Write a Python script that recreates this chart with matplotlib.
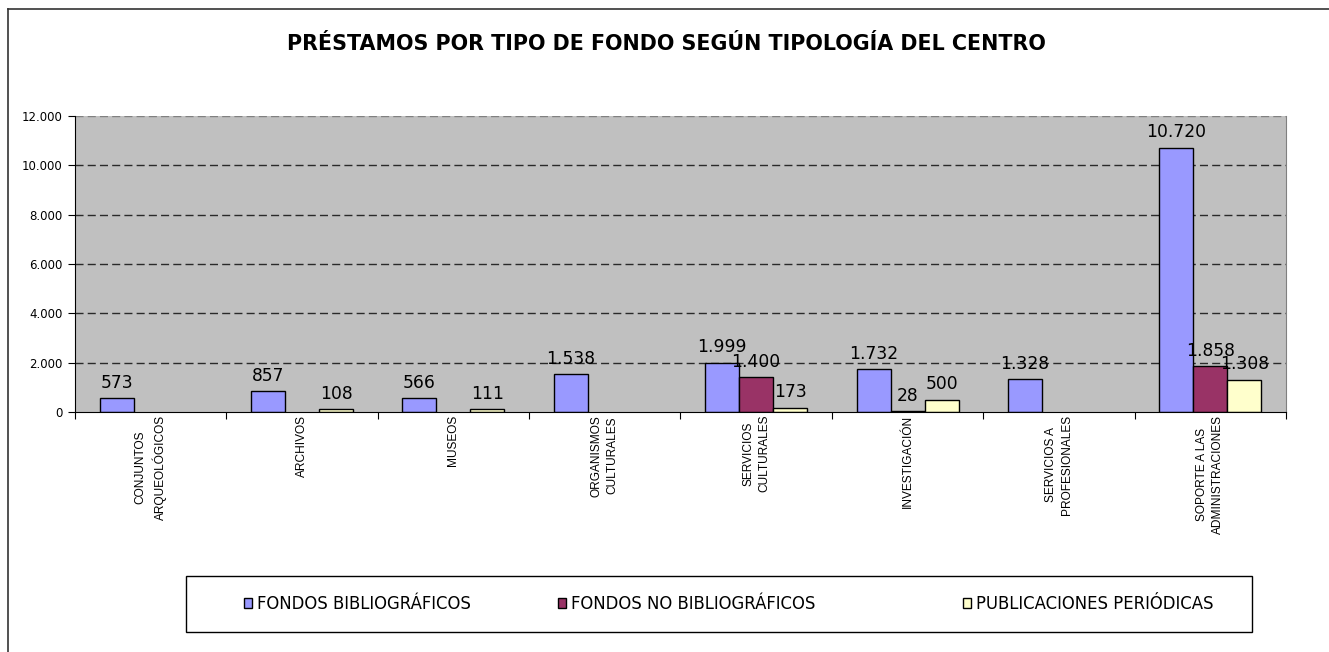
import numpy as np
import matplotlib
matplotlib.use("Agg")
import matplotlib.pyplot as plt
from matplotlib import font_manager
from matplotlib.lines import Line2D
from matplotlib.patches import Rectangle

categories = ["CONJUNTOS\nARQUEOLÓGICOS", "ARCHIVOS", "MUSEOS", "ORGANISMOS\nCULTURALES",
              "SERVICIOS\nCULTURALES", "INVESTIGACIÓN", "SERVICIOS A\nPROFESIONALES",
              "SOPORTE A LAS\nADMINISTRACIONES"]
series_names = ["FONDOS BIBLIOGRÁFICOS", "FONDOS NO BIBLIOGRÁFICOS", "PUBLICACIONES PERIÓDICAS"]
fondos_bibliograficos = [573, 857, 566, 1538, 1999, 1732, 1328, 10720]
fondos_no_bibliograficos = [None, None, None, None, 1400, 28, None, 1858]
publicaciones_periodicas = [None, 108, 111, None, 173, 500, None, 1308]
yticks = [0, 2000, 4000, 6000, 8000, 10000, 12000]
ytick_labels = ["0", "2.000", "4.000", "6.000", "8.000", "10.000", "12.000"]
title = "PRÉSTAMOS POR TIPO DE FONDO SEGÚN TIPOLOGÍA DEL CENTRO"

colors = ["#9999FF", "#993366", "#FFFFCC"]

names = {f.name for f in font_manager.fontManager.ttflist}
narrow_font = "Liberation Sans Narrow" if "Liberation Sans Narrow" in names else (
    "Liberation Sans" if "Liberation Sans" in names else "DejaVu Sans")
narrow_size = 10 if narrow_font == "Liberation Sans Narrow" else 8.6
plt.rcParams["font.family"] = ["DejaVu Sans"]

def fmt(v):
    return f"{int(v):,}".replace(",", ".")

fig = plt.figure(figsize=(13.29, 6.52), dpi=100)
ax = fig.add_axes([0.0564, 0.3681, 0.9112, 0.4540])
ax.set_facecolor("#C0C0C0")

data = [fondos_bibliograficos, fondos_no_bibliograficos, publicaciones_periodicas]
x = np.arange(len(categories))
w = 0.2246
handles = []
for i, (vals, col, nm) in enumerate(zip(data, colors, series_names)):
    arr = np.array([np.nan if v is None else v for v in vals], dtype=float)
    bars = ax.bar(x + (i - 1) * w, arr, width=w, color=col, edgecolor="black", linewidth=1.0,
                  label=nm, zorder=3)
    handles.append(bars)
    for xi, v in zip(x, arr):
        if not np.isnan(v):
            ax.annotate(fmt(v), (xi + (i - 1) * w, v), xytext=(0, 4.5), textcoords="offset points",
                        ha="center", va="bottom", fontsize=12.3, color="black", zorder=5)

ax.set_xlim(-0.5, len(categories) - 0.5)
ax.set_ylim(0, 12000)
ax.set_yticks(yticks)
ax.set_yticklabels(ytick_labels, fontsize=8.5)
for yv in yticks[1:]:
    ax.axhline(yv, color="#2a2a2a" if yv < 12000 else "#808080", linewidth=1.0,
               linestyle=(0, (5.8, 3.0)), zorder=1)

ax.set_xticks(np.arange(-0.5, len(categories)), minor=False)
ax.set_xticklabels([""] * (len(categories) + 1))
ax.set_xticks(x, minor=True)
ax.set_xticklabels(categories, minor=True, rotation=90, fontsize=narrow_size, family=narrow_font,
                   va="top", ha="center", multialignment="center", linespacing=1.45)
ax.tick_params(axis="x", which="major", length=5, direction="out", color="black")
ax.tick_params(axis="x", which="minor", length=0, pad=2)
ax.tick_params(axis="y", length=5, direction="out", color="black", pad=4)

ax.spines["top"].set_visible(False)
ax.spines["right"].set_color("#808080")
ax.spines["left"].set_color("black")
ax.spines["bottom"].set_color("black")
ax.spines["bottom"].set_zorder(4)

fig.text(666 / 1329, 1 - 44 / 652, title, ha="center", va="center", fontsize=14.9,
         fontweight="bold")

# outer chart frame (left and top edges)
fig.add_artist(Line2D([8 / 1329, 8 / 1329], [0, 1 - 9 / 652], transform=fig.transFigure,
                      color="#333333", linewidth=1.2))
fig.add_artist(Line2D([8 / 1329, 1], [1 - 9 / 652, 1 - 9 / 652], transform=fig.transFigure,
                      color="#333333", linewidth=1.2))

# legend box
fig.add_artist(Rectangle((186 / 1329, 1 - 632 / 652), (1252 - 186) / 1329, (632 - 576) / 652,
                         transform=fig.transFigure, facecolor="white", edgecolor="black",
                         linewidth=1.0))
legend_x = [244, 558, 963]
for h, nm, lx in zip(handles, series_names, legend_x):
    leg = fig.legend(handles=[h], labels=[nm], loc="center left",
                     bbox_to_anchor=(lx / 1329, 1 - 604 / 652), frameon=False,
                     fontsize=11.9, handlelength=0.5, handleheight=0.5, handletextpad=0.3,
                     borderpad=0, borderaxespad=0)
    leg.set_zorder(10)

fig.savefig("out.png", dpi=100)
